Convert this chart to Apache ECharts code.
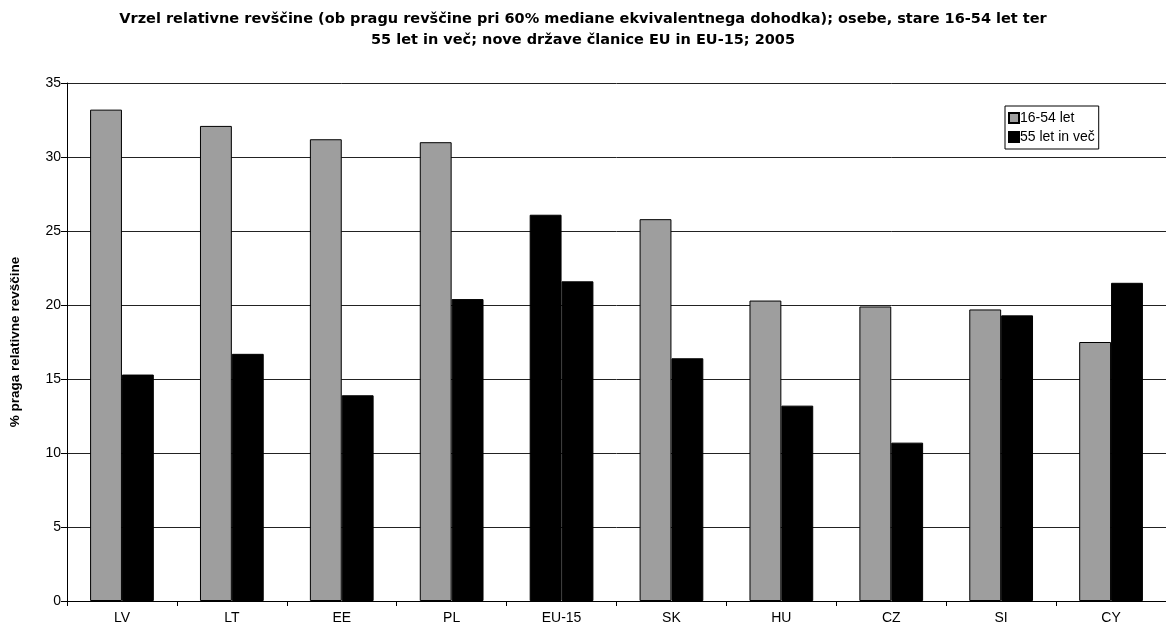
<!DOCTYPE html>
<html>
<head>
<meta charset="utf-8">
<script src="https://cdn.jsdelivr.net/npm/echarts@6/dist/echarts.min.js"></script>
<style>html,body{margin:0;padding:0;background:#fff}#c{width:1166px;height:634px}</style>
</head>
<body>
<div id="c"></div>
<script>
const categories = ['LV','LT','EE','PL','EU-15','SK','HU','CZ','SI','CY'];
const young = [33.2, 32.1, 31.2, 31.0, 26.1, 25.8, 20.3, 19.9, 19.7, 17.5];
const old = [15.3, 16.7, 13.9, 20.4, 21.6, 16.4, 13.2, 10.7, 19.3, 21.5];
const seriesNames = ['16-54 let', '55 let in več'];
const titleText = 'Vrzel relativne revščine (ob pragu revščine pri 60% mediane ekvivalentnega dohodka); osebe, stare 16-54 let ter\n55 let in več; nove države članice EU in EU-15; 2005';
const yName = '% praga relativne revščine';

const chart = echarts.init(document.getElementById('c'), null, {renderer: 'canvas'});
const font = 'Liberation Sans, Arial, sans-serif';
const titleFont = 'DejaVu Sans, Liberation Sans, sans-serif';
const gray = '#9e9e9e';
chart.setOption({
  animation: false,
  backgroundColor: '#fff',
  textStyle: {fontFamily: font},
  title: {
    text: titleText,
    left: 'center',
    top: 4,
    textStyle: {fontFamily: titleFont, fontSize: 14.5, fontWeight: 'bold', color: '#000', lineHeight: 21}
  },
  legend: {
    orient: 'vertical',
    left: 1005,
    top: 106,
    icon: 'rect',
    itemWidth: 10,
    itemHeight: 10,
    itemGap: 5,
    padding: [5, 4, 5, 3],
    borderColor: '#000',
    borderWidth: 1,
    textStyle: {fontFamily: font, fontSize: 14, color: '#000', padding: [0,0,0,-4]},
    data: seriesNames
  },
  grid: {left: 63, right: 0, top: 83, bottom: 33},
  xAxis: {
    type: 'category',
    data: categories,
    axisLine: {lineStyle: {color: '#000', width: 1}},
    axisTick: {show: true, length: 5, lineStyle: {color: '#000'}},
    axisLabel: {fontFamily: font, fontSize: 14, color: '#000', margin: 10}
  },
  yAxis: {
    type: 'value',
    min: 0, max: 35, interval: 5,
    name: yName,
    nameLocation: 'middle',
    nameGap: 45,
    nameRotate: 90,
    nameTextStyle: {fontFamily: font, fontSize: 13.5, fontWeight: 'bold', color: '#000'},
    axisLine: {show: true, lineStyle: {color: '#000', width: 1}},
    axisTick: {show: true, length: 6, lineStyle: {color: '#000'}},
    axisLabel: {fontFamily: font, fontSize: 14, color: '#000', margin: 6},
    splitLine: {show: true, lineStyle: {color: '#222', width: 1}}
  },
  series: [
    {
      name: seriesNames[0],
      type: 'bar',
      barGap: '0%',
      barCategoryGap: '42%',
      data: young.map((v, i) => categories[i] === 'EU-15' ? {value: v, itemStyle: {color: '#000'}} : v),
      itemStyle: {color: gray, borderColor: '#000', borderWidth: 1}
    },
    {
      name: seriesNames[1],
      type: 'bar',
      data: old,
      itemStyle: {color: '#000', borderColor: '#000', borderWidth: 1}
    }
  ]
});
</script>
</body>
</html>
